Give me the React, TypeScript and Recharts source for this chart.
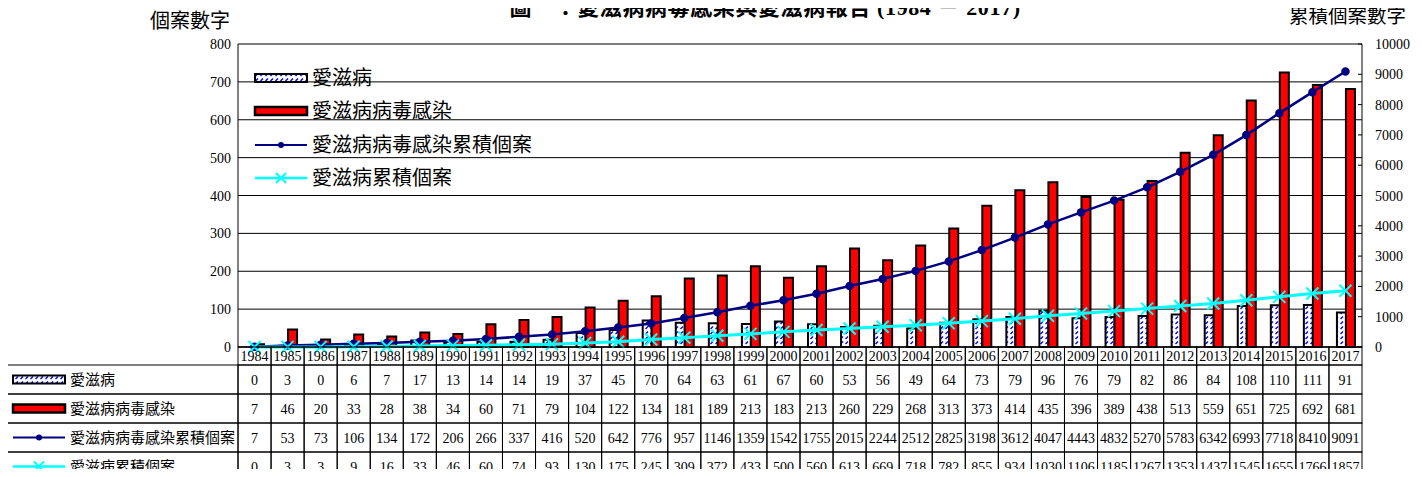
import React from "react";
import {
  ComposedChart,
  Bar,
  Line,
  XAxis,
  YAxis,
  CartesianGrid,
  Legend,
} from "recharts";

const years = [
  "1984", "1985", "1986", "1987", "1988", "1989", "1990", "1991", "1992",
  "1993", "1994", "1995", "1996", "1997", "1998", "1999", "2000", "2001",
  "2002", "2003", "2004", "2005", "2006", "2007", "2008", "2009", "2010",
  "2011", "2012", "2013", "2014", "2015", "2016", "2017",
];
const aids = [
  0, 3, 0, 6, 7, 17, 13, 14, 14, 19, 37, 45, 70, 64, 63, 61, 67, 60, 53, 56,
  49, 64, 73, 79, 96, 76, 79, 82, 86, 84, 108, 110, 111, 91,
];
const hiv = [
  7, 46, 20, 33, 28, 38, 34, 60, 71, 79, 104, 122, 134, 181, 189, 213, 183,
  213, 260, 229, 268, 313, 373, 414, 435, 396, 389, 438, 513, 559, 651, 725,
  692, 681,
];
const hivCum = [
  7, 53, 73, 106, 134, 172, 206, 266, 337, 416, 520, 642, 776, 957, 1146, 1359,
  1542, 1755, 2015, 2244, 2512, 2825, 3198, 3612, 4047, 4443, 4832, 5270, 5783,
  6342, 6993, 7718, 8410, 9091,
];
const aidsCum = [
  0, 3, 3, 9, 16, 33, 46, 60, 74, 93, 130, 175, 245, 309, 372, 433, 500, 560,
  613, 669, 718, 782, 855, 934, 1030, 1106, 1185, 1267, 1353, 1437, 1545, 1655,
  1766, 1857,
];
const leftTicks = [0, 100, 200, 300, 400, 500, 600, 700, 800];
const rightTicks = [0, 1000, 2000, 3000, 4000, 5000, 6000, 7000, 8000, 9000, 10000];

const seriesNames = {
  aids: "愛滋病",
  hiv: "愛滋病病毒感染",
  hivCum: "愛滋病病毒感染累積個案",
  aidsCum: "愛滋病累積個案",
};

const data = years.map((year, i) => ({
  year,
  aids: aids[i],
  hiv: hiv[i],
  hivCum: hivCum[i],
  aidsCum: aidsCum[i],
}));

const rows = [
  { key: "aids", values: aids },
  { key: "hiv", values: hiv },
  { key: "hivCum", values: hivCum },
  { key: "aidsCum", values: aidsCum },
];

const PLOT_LEFT = 238;
const PLOT_RIGHT = 1362;
const CELL_W = (PLOT_RIGHT - PLOT_LEFT) / years.length;
const YEAR_H = 18;
const ROW_H = 29;
const FONT = "'Times New Roman', Tinos, 'Liberation Serif', 'DejaVu Serif', serif, 'Noto Sans CJK TC'";
const NAVY = "#000080";
const CYAN = "#00ffff";

function XMark({ cx, cy, size = 6, color = CYAN }: any) {
  return (
    <g>
      <line x1={cx - size} y1={cy - size} x2={cx + size} y2={cy + size} stroke={color} strokeWidth={2} />
      <line x1={cx - size} y1={cy + size} x2={cx + size} y2={cy - size} stroke={color} strokeWidth={2} />
    </g>
  );
}

function Icon({ type, x, y, w, hatchId }: any) {
  if (type === "aids")
    return <rect x={x} y={y - 4} width={w} height={8} fill={`url(#${hatchId})`} stroke="#000" strokeWidth={2} />;
  if (type === "hiv")
    return <rect x={x} y={y - 4} width={w} height={8} fill="#ff0000" stroke="#000" strokeWidth={2.5} />;
  if (type === "hivCum")
    return (
      <g>
        <line x1={x} y1={y} x2={x + w} y2={y} stroke={NAVY} strokeWidth={2} />
        <circle cx={x + w / 2} cy={y} r={3} fill={NAVY} />
      </g>
    );
  return (
    <g>
      <line x1={x} y1={y} x2={x + w} y2={y} stroke={CYAN} strokeWidth={2.5} />
      <XMark cx={x + w / 2} cy={y} size={5} />
    </g>
  );
}

function HatchDef({ id }: { id: string }) {
  return (
    <pattern id={id} width="5" height="5" patternUnits="userSpaceOnUse">
      <rect width="5" height="5" fill="#fff" />
      <path d="M0.5,4 L3,1.5" stroke="#0000ff" strokeWidth="1.5" />
    </pattern>
  );
}

function LeftTick({ x, y, payload }: any) {
  return (
    <text x={x - 7} y={y + 5} textAnchor="end" fontSize={14} fill="#000" fontFamily={FONT}>
      {payload.value}
    </text>
  );
}

function RightTick({ x, y, payload }: any) {
  return (
    <g>
      <line x1={x - 4} y1={y} x2={x} y2={y} stroke="#000" />
      <text x={x + 13} y={y + 5} textAnchor="start" fontSize={14} fill="#000" fontFamily={FONT}>
        {payload.value}
      </text>
    </g>
  );
}

function YearTick({ x, y, payload }: any) {
  return (
    <g>
      <rect x={x - CELL_W / 2} y={y} width={CELL_W} height={YEAR_H} fill="none" stroke="#000" />
      <text x={x} y={y + YEAR_H / 2 + 5} textAnchor="middle" fontSize={14} fill="#000" fontFamily={FONT}>
        {payload.value}
      </text>
    </g>
  );
}

function RowTick({ x, y, payload, row }: any) {
  const idx = payload.index;
  const left = x - CELL_W / 2;
  return (
    <g>
      <rect x={left} y={y} width={CELL_W} height={ROW_H} fill="none" stroke="#000" />
      <text x={x} y={y + ROW_H / 2 + 5} textAnchor="middle" fontSize={14} fill="#000" fontFamily={FONT}>
        {row.values[idx]}
      </text>
      {idx === 0 && (
        <g>
          <rect x={5} y={y} width={left - 5} height={ROW_H} fill="none" stroke="#000" />
          <Icon type={row.key} x={13} y={y + ROW_H / 2} w={52} hatchId="hatch" />
          <text x={70} y={y + ROW_H / 2 + 5} fontSize={15} fill="#000" fontFamily={FONT}>
            {seriesNames[row.key as keyof typeof seriesNames]}
          </text>
        </g>
      )}
    </g>
  );
}

function PlotLegend() {
  const keys = ["aids", "hiv", "hivCum", "aidsCum"];
  const tops = [78, 111, 145, 178];
  return (
    <svg width={300} height={140} style={{ overflow: "visible" }}>
      <defs>
        <HatchDef id="hatchL" />
      </defs>
      {keys.map((k, i) => (
        <g key={k}>
          <Icon type={k} x={5} y={tops[i] - 62} w={52} hatchId="hatchL" />
          <text x={62} y={tops[i] - 62 + 7} fontSize={20} fill="#000" fontFamily={FONT}>
            {seriesNames[k as keyof typeof seriesNames]}
          </text>
        </g>
      ))}
    </svg>
  );
}

export default function App() {
  return (
    <div style={{ margin: -8, width: 1422, height: 477, overflow: "hidden", position: "relative", fontFamily: FONT, background: "#fff" }}>
      <ComposedChart
        width={1422}
        height={481}
        data={data}
        margin={{ top: 44, right: 0, left: 178, bottom: 0 }}
        barGap={0}
      >
        <defs>
          <HatchDef id="hatch" />
        </defs>
        <CartesianGrid xAxisId={0} yAxisId="left" vertical={false} stroke="#000" />
        <XAxis
          xAxisId={0}
          dataKey="year"
          interval={0}
          height={YEAR_H}
          tickSize={0}
          tickMargin={0}
          axisLine={{ stroke: "#000" }}
          tick={(p: any) => <YearTick {...p} />}
        />
        {rows.map((r, i) => (
          <XAxis
            key={r.key}
            xAxisId={i + 1}
            dataKey="year"
            interval={0}
            height={ROW_H}
            tickSize={0}
            tickMargin={0}
            axisLine={false}
            tick={(p: any) => <RowTick {...p} row={r} />}
          />
        ))}
        <YAxis
          yAxisId="left"
          domain={[0, 800]}
          ticks={leftTicks}
          interval={0}
          width={60}
          axisLine={{ stroke: "#000" }}
          tickLine={false}
          tickSize={0}
          tickMargin={0}
          tick={(p: any) => <LeftTick {...p} />}
        />
        <YAxis
          yAxisId="right"
          orientation="right"
          domain={[0, 10000]}
          ticks={rightTicks}
          interval={0}
          width={60}
          axisLine={{ stroke: "#000" }}
          tickLine={false}
          tickSize={0}
          tickMargin={0}
          tick={(p: any) => <RightTick {...p} />}
        />
        <Legend
          layout="vertical"
          align="center"
          verticalAlign="middle"
          wrapperStyle={{ top: 62, left: 250, width: 300 }}
          content={() => <PlotLegend />}
        />
        <Bar xAxisId={0} yAxisId="left" dataKey="aids" name={seriesNames.aids} fill="url(#hatch)" stroke="#000" strokeWidth={2} barSize={9} isAnimationActive={false} />
        <Bar xAxisId={0} yAxisId="left" dataKey="hiv" name={seriesNames.hiv} fill="#ff0000" stroke="#000" strokeWidth={2} barSize={9} isAnimationActive={false} />
        <Line
          xAxisId={0}
          yAxisId="right"
          type="linear"
          dataKey="hivCum"
          name={seriesNames.hivCum}
          stroke={NAVY}
          strokeWidth={2.5}
          dot={{ r: 3, fill: NAVY, stroke: NAVY }}
          isAnimationActive={false}
        />
        <Line
          xAxisId={0}
          yAxisId="right"
          type="linear"
          dataKey="aidsCum"
          name={seriesNames.aidsCum}
          stroke={CYAN}
          strokeWidth={3}
          dot={(p: any) => <XMark key={`x-${p.index}`} cx={p.cx} cy={p.cy} />}
          isAnimationActive={false}
        />
      </ComposedChart>
      <svg width={1422} height={40} style={{ position: "absolute", top: 0, left: 0, pointerEvents: "none" }}>
        <text x={765} y={15} textAnchor="middle" fontSize={22} fontWeight="bold" letterSpacing={0.6} fill="#000" fontFamily={FONT}>
          圖一：愛滋病病毒感染與愛滋病報告 (1984 － 2017)
        </text>
        <text x={230} y={28} textAnchor="end" fontSize={20} fill="#000" fontFamily={FONT}>
          個案數字
        </text>
        <text x={1406} y={23} textAnchor="end" fontSize={19.5} fill="#000" fontFamily={FONT}>
          累積個案數字
        </text>
      </svg>
    </div>
  );
}
